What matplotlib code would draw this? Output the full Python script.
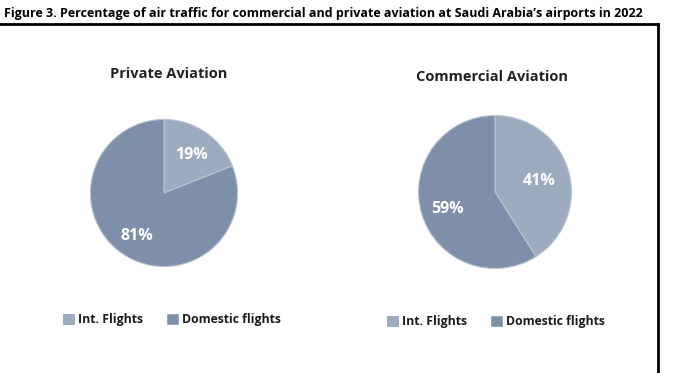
import matplotlib.pyplot as plt
from matplotlib.patches import Patch

plt.rcParams['font.family'] = ['Open Sans', 'DejaVu Sans']

categories = ['Int. Flights', 'Domestic flights']
private_values = [19, 81]
commercial_values = [41, 59]

light = '#9dabbf'
dark = '#7d8fa9'
colors = [light, dark]

fig = plt.figure(figsize=(6.78, 3.73), dpi=100)
W, H = 678, 373

fig.text(4 / W, 1 - 14 / H,
         "Figure 3. Percentage of air traffic for commercial and private aviation at Saudi Arabia\u2019s airports in 2022",
         fontsize=9, fontweight='bold', va='center', ha='left')

# box frame
fig.add_artist(plt.Line2D([0, 658 / W], [1 - 24 / H, 1 - 24 / H], color='black', lw=2))
fig.add_artist(plt.Line2D([658 / W, 658 / W], [1 - 24 / H, 0], color='black', lw=2))


def draw_pie(cx, cy, r, values, title, title_x, title_y, label_pos):
    ax = fig.add_axes([(cx - r) / W, 1 - (cy + r) / H, 2 * r / W, 2 * r / H])
    wedges, texts, autotexts = ax.pie(values, colors=colors, startangle=90, counterclock=False,
                                      autopct=lambda p: '%d%%' % round(p), pctdistance=0.63,
                                      wedgeprops=dict(edgecolor='#b8c3d2', linewidth=0.8),
                                      textprops=dict(color='white', fontweight='bold', fontsize=11.5))
    ax.set_xlim(-1.02, 1.02)
    ax.set_ylim(-1.02, 1.02)
    ax.set_aspect('equal')
    for t, (px, py) in zip(autotexts, label_pos):
        t.set_position(((px - cx) / r, (cy - py) / r))
        t.set_clip_on(False)
    fig.text(title_x / W, 1 - title_y / H, title, fontsize=10.5, fontweight='bold', ha='center', va='center',
             color='#222222')
    return ax


draw_pie(164, 193, 75, private_values, 'Private Aviation', 169, 74, [(192, 154), (136, 237)])
draw_pie(495, 192, 78, commercial_values, 'Commercial Aviation', 492, 77, [(540, 181), (447, 209)])

handles = [Patch(facecolor=c, edgecolor='#8a9ab0', linewidth=0.5) for c in colors]
for x0, y0 in [(63, 320), (387, 322)]:
    leg = fig.legend(handles, categories, loc='center left', bbox_to_anchor=(x0 / W, 1 - y0 / H),
                     ncol=2, frameon=False, handlelength=0.9, handleheight=0.9, handletextpad=0.3,
                     columnspacing=2.0, borderaxespad=0, borderpad=0,
                     prop=dict(size=8.8, weight='bold'))
    for t in leg.get_texts():
        t.set_color('#1a1a1a')

fig.savefig('out.png', dpi=100)
